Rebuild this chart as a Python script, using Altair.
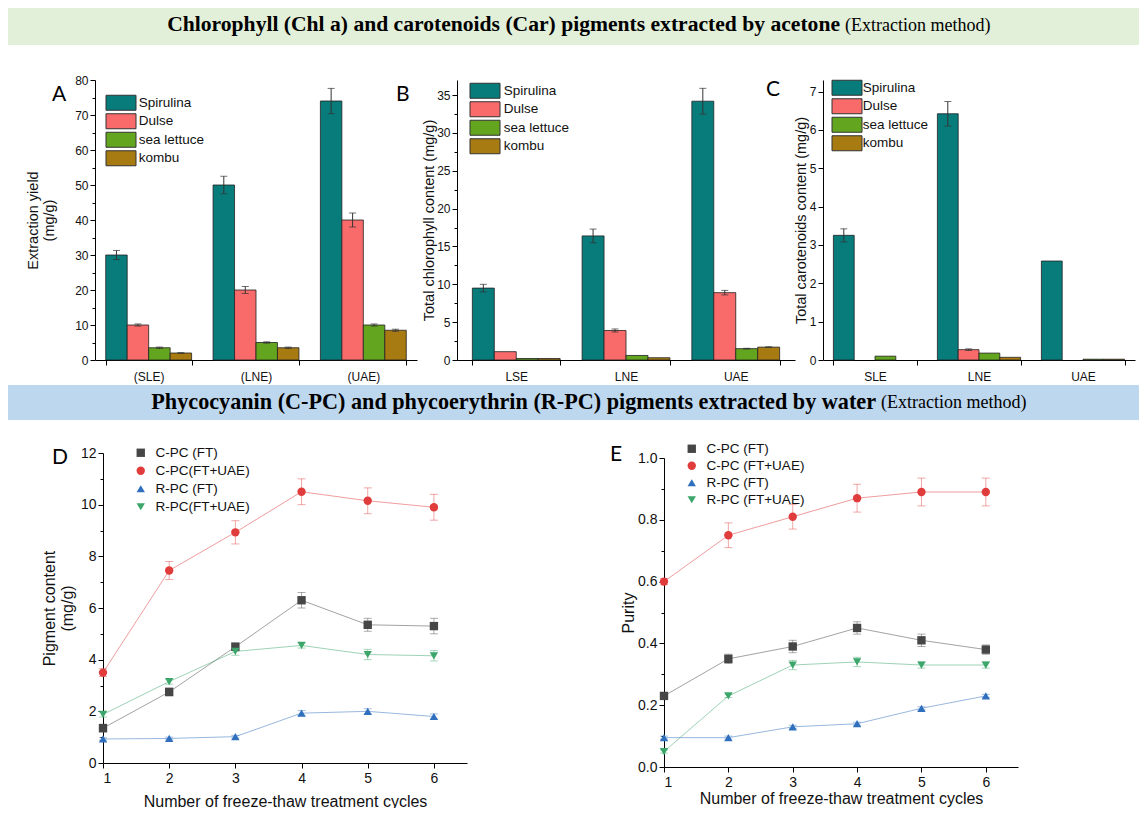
import altair as alt
import pandas as pd

W, H = 1131, 800
M = 8  # page margin: reference pixel -> canvas pixel


def X(v):
    return v - M


def Y(v):
    return v - M


FONT = "Liberation Sans"
SERIF = "Liberation Serif"

# ---------------- data: panels A-C (bar charts) ----------------
species = ["Spirulina", "Dulse", "sea lettuce", "kombu"]
species_colors = ["#087b7b", "#f96b6b", "#64a51f", "#a77a12"]

a_methods = ["(SLE)", "(LNE)", "(UAE)"]
a_spirulina = [30.0, 50.0, 74.0]
a_dulse = [10.0, 20.0, 40.0]
a_sea_lettuce = [3.5, 5.0, 10.0]
a_kombu = [2.0, 3.5, 8.5]
a_spirulina_err = [1.3, 2.5, 3.6]
a_dulse_err = [0.3, 1.0, 2.0]
a_sea_lettuce_err = [0.2, 0.2, 0.3]
a_kombu_err = [0.1, 0.2, 0.3]

b_methods = ["LSE", "LNE", "UAE"]
b_spirulina = [9.5, 16.4, 34.2]
b_dulse = [1.1, 3.9, 8.9]
b_sea_lettuce = [0.2, 0.6, 1.5]
b_kombu = [0.2, 0.3, 1.7]
b_spirulina_err = [0.5, 0.9, 1.7]
b_dulse_err = [0.0, 0.2, 0.3]
b_sea_lettuce_err = [0.0, 0.0, 0.05]
b_kombu_err = [0.0, 0.0, 0.05]

c_methods = ["SLE", "LNE", "UAE"]
c_spirulina = [3.25, 6.42, 2.58]
c_dulse = [0.0, 0.27, 0.0]
c_sea_lettuce = [0.1, 0.18, 0.02]
c_kombu = [0.0, 0.07, 0.02]
c_spirulina_err = [0.17, 0.32, 0.0]
c_dulse_err = [0.0, 0.02, 0.0]
c_sea_lettuce_err = [0.0, 0.0, 0.0]
c_kombu_err = [0.0, 0.0, 0.0]

# ---------------- data: panels D-E (line charts) ----------------
cycles = [1, 2, 3, 4, 5, 6]
d_series = ["C-PC (FT)", "C-PC(FT+UAE)", "R-PC (FT)", "R-PC(FT+UAE)"]
e_series = ["C-PC (FT)", "C-PC (FT+UAE)", "R-PC (FT)", "R-PC (FT+UAE)"]
series_colors = ["#464646", "#e03c3c", "#2f6fbd", "#3ca66b"]
series_shapes = ["square", "circle", "triangle-up", "triangle-down"]

d_cpc_ft = [1.35, 2.75, 4.5, 6.3, 5.35, 5.3]
d_cpc_ftuae = [3.5, 7.45, 8.93, 10.5, 10.15, 9.9]
d_rpc_ft = [0.93, 0.95, 1.02, 1.93, 2.0, 1.8]
d_rpc_ftuae = [1.88, 3.15, 4.32, 4.55, 4.2, 4.15]
d_cpc_ft_err = [0.15, 0.15, 0.15, 0.3, 0.25, 0.3]
d_cpc_ftuae_err = [0.15, 0.35, 0.45, 0.5, 0.5, 0.5]
d_rpc_ft_err = [0.05, 0.05, 0.05, 0.1, 0.1, 0.1]
d_rpc_ftuae_err = [0.1, 0.1, 0.15, 0.1, 0.2, 0.2]

e_cpc_ft = [0.23, 0.35, 0.39, 0.45, 0.41, 0.38]
e_cpc_ftuae = [0.60, 0.75, 0.81, 0.87, 0.89, 0.89]
e_rpc_ft = [0.095, 0.095, 0.13, 0.14, 0.19, 0.23]
e_rpc_ftuae = [0.05, 0.23, 0.33, 0.34, 0.33, 0.33]
e_cpc_ft_err = [0.01, 0.015, 0.02, 0.02, 0.02, 0.015]
e_cpc_ftuae_err = [0.01, 0.04, 0.04, 0.045, 0.045, 0.045]
e_rpc_ft_err = [0.005, 0.005, 0.005, 0.005, 0.005, 0.005]
e_rpc_ftuae_err = [0.005, 0.005, 0.015, 0.015, 0.01, 0.01]

# wide rectangle swatch: size 56.25 -> 7.5px unit, path spans 30 x 15 px
RECT_SYMBOL = "M-4,-2H4V2H-4Z"


def bar_panel(methods, series_vals, series_errs, x_left, x_right, y_max,
              y_values, major_test, y_title, title_padding, legend_x, legend_y,
              label_offset, p_inner, p_outer):
    rows = []
    for sp, vals, errs in zip(species, series_vals, series_errs):
        for m, v, e in zip(methods, vals, errs):
            rows.append({"method": m, "species": sp, "value": v, "err": e,
                         "lo": v - e, "hi": v + e})
    df = pd.DataFrame(rows)
    x_scale = alt.Scale(domain=methods, range=[X(x_left), X(x_right)],
                        paddingInner=p_inner, paddingOuter=p_outer)
    y_scale = alt.Scale(domain=[0, y_max], range=[Y(360), Y(80)], nice=False, zero=False)
    off_scale = alt.Scale(domain=species, paddingInner=0, paddingOuter=0)
    x_axis = alt.Axis(title=None, orient="bottom", offset=Y(360) - H, labelAngle=0,
                      tickBand="extent", tickSize=5, labelPadding=6, labelFontSize=12)
    y_axis = alt.Axis(title=y_title, orient="left", offset=-X(x_left), values=y_values,
                      labelExpr=f"({major_test}) ? datum.label : ''",
                      tickSize={"condition": {"test": major_test, "value": 5}, "value": 3},
                      labelFontSize=12, titleFontSize=14.5, titlePadding=title_padding,
                      format="d")
    x_enc = alt.X("method:N", scale=x_scale, axis=x_axis, sort=methods)
    off_enc = alt.XOffset("species:N", scale=off_scale, sort=species)
    legend = alt.Legend(title=None, orient="none", legendX=X(legend_x) + 11.25,
                        legendY=Y(legend_y), symbolType=RECT_SYMBOL, symbolSize=56.25,
                        symbolStrokeColor="#333", symbolStrokeWidth=1, symbolOpacity=1,
                        labelFontSize=13.5, labelOffset=label_offset, rowPadding=-1.5,
                        padding=0)
    base = alt.Chart(df)
    bars = base.transform_filter("datum.value > 0").mark_bar(
        stroke="#222", strokeWidth=0.8, opacity=1).encode(
        x=x_enc, xOffset=off_enc,
        y=alt.Y("value:Q", scale=y_scale, axis=y_axis),
        color=alt.Color("species:N", sort=species,
                        scale=alt.Scale(domain=species, range=species_colors),
                        legend=legend),
    )
    errs = base.transform_filter("datum.err > 0")
    rule = errs.mark_rule(color="#333", strokeWidth=1).encode(
        x=x_enc, xOffset=off_enc,
        y=alt.Y("lo:Q", scale=y_scale, axis=y_axis), y2="hi:Q")
    caps = errs.transform_fold(["lo", "hi"], as_=["end", "cap"]).mark_tick(
        color="#333", size=7, thickness=1).encode(
        x=x_enc, xOffset=off_enc,
        y=alt.Y("cap:Q", scale=y_scale, axis=y_axis))
    return alt.layer(bars, rule, caps)


def line_panel(names, vals_list, errs_list, x_left, x_right, y_bottom, y_top,
               y_max, y_values, major_test, y_fmt, y_title, title_padding,
               legend_x, legend_y, label_offset, row_padding, x_title_padding):
    rows = []
    for name, vals, errs in zip(names, vals_list, errs_list):
        for c, v, e in zip(cycles, vals, errs):
            rows.append({"cycle": c, "series": name, "value": v, "err": e,
                         "lo": v - e, "hi": v + e})
    df = pd.DataFrame(rows)
    x_scale = alt.Scale(domain=[1, 6.5], range=[X(x_left), X(x_right)], nice=False, zero=False)
    y_scale = alt.Scale(domain=[0, y_max], range=[Y(y_bottom), Y(y_top)], nice=False, zero=False)
    x_axis = alt.Axis(title="Number of freeze-thaw treatment cycles", orient="bottom",
                      offset=Y(y_bottom) - H,
                      values=[1, 1.5, 2, 2.5, 3, 3.5, 4, 4.5, 5, 5.5, 6, 6.5],
                      labelExpr="(datum.value % 1 === 0) ? datum.label : ''",
                      tickSize={"condition": {"test": "datum.value % 1 === 0", "value": 5},
                                "value": 3},
                      format="d", labelFontSize=14, titleFontSize=16, labelPadding=3,
                      titlePadding=x_title_padding)
    y_axis = alt.Axis(title=y_title, orient="left", offset=-X(x_left), values=y_values,
                      labelExpr=f"({major_test}) ? datum.label : ''",
                      tickSize={"condition": {"test": major_test, "value": 5}, "value": 3},
                      format=y_fmt, labelFontSize=14, titleFontSize=16,
                      titlePadding=title_padding)
    x_enc = alt.X("cycle:Q", scale=x_scale, axis=x_axis)
    legend = alt.Legend(title=None, orient="none", legendX=X(legend_x), legendY=Y(legend_y),
                        labelFontSize=13.5, symbolSize=70, labelOffset=label_offset,
                        rowPadding=row_padding, padding=0, symbolStrokeWidth=0,
                        symbolOpacity=1)
    base = alt.Chart(df)
    layers = []
    # thin connecting lines and error bars, one fixed colour per series
    for name, col in zip(names, series_colors):
        sub = base.transform_filter(alt.datum.series == name)
        layers.append(sub.mark_line(color=col, strokeWidth=1, opacity=0.5).encode(
            x=x_enc, y=alt.Y("value:Q", scale=y_scale, axis=y_axis)))
        layers.append(sub.mark_rule(color=col, strokeWidth=1, opacity=0.45).encode(
            x=x_enc, y=alt.Y("lo:Q", scale=y_scale, axis=y_axis), y2="hi:Q"))
        layers.append(sub.transform_fold(["lo", "hi"], as_=["end", "cap"]).mark_tick(
            color=col, orient="horizontal", size=8, thickness=1, opacity=0.45).encode(
            x=x_enc, y=alt.Y("cap:Q", scale=y_scale, axis=y_axis)))
    pts = base.mark_point(filled=True, size=70, opacity=1).encode(
        x=x_enc, y=alt.Y("value:Q", scale=y_scale, axis=y_axis),
        color=alt.Color("series:N", sort=names,
                        scale=alt.Scale(domain=names, range=series_colors), legend=legend),
        shape=alt.Shape("series:N", sort=names,
                        scale=alt.Scale(domain=names, range=series_shapes), legend=legend),
    )
    layers.append(pts)
    return alt.layer(*layers)


panel_a = bar_panel(a_methods,
                    [a_spirulina, a_dulse, a_sea_lettuce, a_kombu],
                    [a_spirulina_err, a_dulse_err, a_sea_lettuce_err, a_kombu_err],
                    95, 417, 80, list(range(0, 81, 5)), "datum.value % 10 === 0",
                    ["Extraction yield", "(mg/g)"], 18, 103, 96, 11, 0.2, 0.1)
panel_b = bar_panel(b_methods,
                    [b_spirulina, b_dulse, b_sea_lettuce, b_kombu],
                    [b_spirulina_err, b_dulse_err, b_sea_lettuce_err, b_kombu_err],
                    457, 795, 37, [i * 2.5 for i in range(15)], "datum.value % 5 === 0",
                    "Total chlorophyll content (mg/g)", 0, 467, 84, 12, 0.2, 0.14)
panel_c = bar_panel(c_methods,
                    [c_spirulina, c_dulse, c_sea_lettuce, c_kombu],
                    [c_spirulina_err, c_dulse_err, c_sea_lettuce_err, c_kombu_err],
                    823, 1135, 7.3, [i * 0.5 for i in range(15)], "datum.value % 1 === 0",
                    "Total carotenoids content (mg/g)", 1, 829, 81, 9, 0.2, 0.1)

panel_d = line_panel(d_series, [d_cpc_ft, d_cpc_ftuae, d_rpc_ft, d_rpc_ftuae],
                     [d_cpc_ft_err, d_cpc_ftuae_err, d_rpc_ft_err, d_rpc_ftuae_err],
                     103, 467, 763, 453, 12, list(range(0, 13)), "datum.value % 2 === 0", "d",
                     ["Pigment content", "(mg/g)"], 5, 134, 446, 8, 3, 8)
panel_e = line_panel(e_series, [e_cpc_ft, e_cpc_ftuae, e_rpc_ft, e_rpc_ftuae],
                     [e_cpc_ft_err, e_cpc_ftuae_err, e_rpc_ft_err, e_rpc_ftuae_err],
                     664, 1018, 767, 458, 1.0, [i / 10 for i in range(11)],
                     "round(datum.value * 10) % 2 === 0", ".1f",
                     "Purity", 1, 685, 442, 8, 2, 1)

one = alt.Data(values=[{"k": 0}])


def banner(y0, y1, x0, x1, fill):
    return alt.Chart(one).mark_rect(fill=fill).encode(
        x=alt.value(X(x0)), x2=alt.value(X(x1)), y=alt.value(max(Y(y0), 0)), y2=alt.value(Y(y1)))


def text(s, x, y, size, font, weight="normal", align="left"):
    return alt.Chart(one).mark_text(text=s, font=font, fontSize=size, fontWeight=weight,
                                    align=align, baseline="middle", color="#000").encode(
        x=alt.value(X(x)), y=alt.value(Y(y)))


layers = [
    banner(3, 45, 8, 1139, "#e2efd9"),
    text("Chlorophyll (Chl a) and  carotenoids (Car) pigments extracted by acetone",
         840, 25, 21.6, SERIF, "bold", "right"),
    text("(Extraction method)", 845, 26, 18, SERIF),
    banner(385, 420, 8, 1139, "#bdd7ee"),
    text("Phycocyanin (C-PC) and phycoerythrin (R-PC) pigments extracted by water",
         876, 402, 22.2, SERIF, "bold", "right"),
    text("(Extraction method)", 881, 403, 18, SERIF),
    panel_a, panel_b, panel_c, panel_d, panel_e,
    text("A", 52, 95, 21, "Lato"),
    text("B", 396, 95, 21, "Lato"),
    text("C", 766, 90, 21, "Lato"),
    text("D", 52, 458, 21, "Lato"),
    text("E", 610, 455, 21, "Lato"),
]

chart = alt.layer(*layers).resolve_scale(
    x="independent", y="independent", xOffset="independent",
    color="independent", shape="independent"
).resolve_axis(x="independent", y="independent").properties(
    width=W, height=H, autosize=alt.AutoSizeParams(type="none"), padding=0
).configure_view(stroke=None).configure_axis(
    grid=False, domainColor="#000", tickColor="#000", labelColor="#111",
    titleColor="#111", labelFont=FONT, titleFont=FONT, titleFontWeight="normal",
    domainWidth=1, tickWidth=1
).configure_legend(labelFont=FONT, labelColor="#111")

chart.save("out.html", embed_options={"renderer": "svg", "actions": False})
